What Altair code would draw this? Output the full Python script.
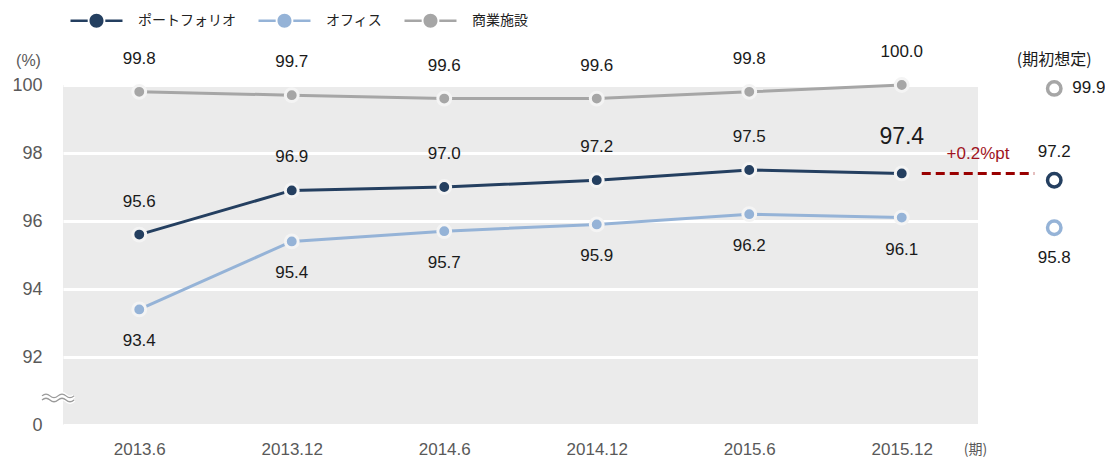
import altair as alt
import pandas as pd

periods = ["2013.6", "2013.12", "2014.6", "2014.12", "2015.6", "2015.12"]
series_names = ["ポートフォリオ", "オフィス", "商業施設"]
series_colors = ["#243F60", "#95B3D7", "#A6A6A6"]
portfolio = [95.6, 96.9, 97.0, 97.2, 97.5, 97.4]
office = [93.4, 95.4, 95.7, 95.9, 96.2, 96.1]
retail = [99.8, 99.7, 99.6, 99.6, 99.8, 100.0]
forecast = [97.2, 95.8, 99.9]          # portfolio, office, retail (期初想定)
forecast_title = "(期初想定)"
gap_label = "+0.2%pt"
y_ticks = [90, 92, 94, 96, 98, 100]
axis_break_at = 90.8

NUM_FONT = "Liberation Sans"
JP_FONT = "Noto Sans CJK JP"

rows = []
for i, p in enumerate(periods):
    for s, vals in zip(series_names, [portfolio, office, retail]):
        rows.append({"idx": i, "period": p, "series": s, "value": vals[i]})
df = pd.DataFrame(rows)
n_last = len(periods) - 1

fc = pd.DataFrame({"idx": [len(periods)] * 3, "series": series_names, "value": forecast})
gap = pd.DataFrame({"x": [n_last], "x2": [len(periods)], "y": [portfolio[-1]], "label": [gap_label]})
head = pd.DataFrame({"idx": [len(periods)], "value": [100], "label": [forecast_title]})
brk = pd.DataFrame({"value": [axis_break_at]})

label_js = "[" + ",".join("'%s'" % p for p in periods) + "][datum.value]"

x_axis = alt.Axis(values=list(range(len(periods))), labelExpr=label_js, grid=False, ticks=False,
                  tickSize=0, domain=False, labelPadding=16, labelFont=NUM_FONT, labelFontSize=17,
                  labelColor="#595959", title="(期)", titleX=912, titleY=24, titleAlign="center",
                  titleBaseline="middle", titleFont=JP_FONT, titleFontSize=14, titleFontWeight="normal",
                  titleColor="#595959")
y_axis = alt.Axis(values=y_ticks, labelExpr="datum.value == 90 ? '0' : datum.value", grid=True,
                  gridColor="white", gridWidth=3, ticks=False, tickSize=0, domain=False, labelPadding=21,
                  labelFont=NUM_FONT, labelFontSize=18, labelColor="#595959", title="(%)", titleAngle=0,
                  titleX=-35, titleY=-25, titleAlign="center", titleBaseline="middle", titleFont=NUM_FONT,
                  titleFontSize=16, titleFontWeight="normal", titleColor="#595959")

xs = alt.Scale(domain=[-0.5, len(periods) - 0.5], nice=False, zero=False)
ys = alt.Scale(domain=[90, 100], nice=False, zero=False)

def X(f="idx"):
    return alt.X(f + ":Q", scale=xs, axis=x_axis)

def Y(f="value"):
    return alt.Y(f + ":Q", scale=ys, axis=y_axis)

# fill scale (carries the legend) and stroke scale (no legend); the stroke scale lists the
# same series in reverse order so that Vega-Lite does not merge the two legends into one
fill_scale = alt.Scale(domain=series_names, range=series_colors)
stroke_scale = alt.Scale(domain=series_names[::-1], range=series_colors[::-1])
sym = ("M-2.3,-0.12H-0.78V0.12H-2.3Z M0.78,-0.12H2.3V0.12H0.78Z "
       "M-0.62,0A0.62,0.62 0 1,0 0.62,0A0.62,0.62 0 1,0 -0.62,0Z")
legend = alt.Legend(orient="none", legendX=22, legendY=-76, direction="horizontal", title=None,
                    symbolType=sym, symbolSize=511, symbolStrokeWidth=0, labelOffset=30,
                    columnPadding=22, labelFont=JP_FONT, labelFontSize=14, labelColor="#222222",
                    padding=0)

lines = alt.Chart(df).mark_line(strokeWidth=3).encode(
    x=X(), y=Y(), stroke=alt.Stroke("series:N", scale=stroke_scale, legend=None))

points = alt.Chart(df).mark_circle(size=165, stroke="#f4f4f4", strokeWidth=3, opacity=1).encode(
    x=X(), y=Y(), fill=alt.Fill("series:N", scale=fill_scale, legend=legend))

txt = dict(font=NUM_FONT, fontSize=17, color="#1a1a1a")
above = alt.Chart(df).transform_filter(
    f"(datum.series == '{series_names[0]}' && datum.idx < {n_last}) || datum.series == '{series_names[2]}'"
).mark_text(dy=-33, **txt).encode(x=X(), y=Y(), text=alt.Text("value:Q", format=".1f"))

below = alt.Chart(df).transform_filter(f"datum.series == '{series_names[1]}'").mark_text(
    dy=32, **txt).encode(x=X(), y=Y(), text=alt.Text("value:Q", format=".1f"))

big = alt.Chart(df).transform_filter(
    f"datum.series == '{series_names[0]}' && datum.idx == {n_last}").mark_text(
    dy=-36, font=NUM_FONT, fontSize=23, color="#1a1a1a").encode(
    x=X(), y=Y(), text=alt.Text("value:Q", format=".1f"))

rings = alt.Chart(fc).mark_point(shape="circle", filled=False, size=180, strokeWidth=3.5, opacity=1).encode(
    x=X(), y=Y(), stroke=alt.Stroke("series:N", scale=stroke_scale, legend=None))

fc_above = alt.Chart(fc).transform_filter(f"datum.series == '{series_names[0]}'").mark_text(
    dy=-28, **txt).encode(x=X(), y=Y(), text=alt.Text("value:Q", format=".1f"))
fc_below = alt.Chart(fc).transform_filter(f"datum.series == '{series_names[1]}'").mark_text(
    dy=30, **txt).encode(x=X(), y=Y(), text=alt.Text("value:Q", format=".1f"))
fc_right = alt.Chart(fc).transform_filter(f"datum.series == '{series_names[2]}'").mark_text(
    dx=18, align="left", **txt).encode(x=X(), y=Y(), text=alt.Text("value:Q", format=".1f"))

fc_head = alt.Chart(head).mark_text(dy=-25, font=JP_FONT, fontSize=16, color="#1a1a1a").encode(
    x=X(), y=Y(), text="label:N")

gap_rule = alt.Chart(gap).mark_rule(color="#990000", strokeWidth=3, strokeDash=[9, 5],
                                    xOffset=20, x2Offset=-20).encode(
    x=X("x"), x2="x2:Q", y=Y("y"))
gap_text = alt.Chart(gap).transform_calculate(xm="(datum.x + datum.x2) / 2").mark_text(
    dy=-19, font=NUM_FONT, fontSize=17, color="#A0141E").encode(x=X("xm"), y=Y("y"), text="label:N")

wave = ("M-1,-0.12 Q-0.75,-0.34 -0.5,-0.12 T0,-0.12 T0.5,-0.12 T1,-0.12 "
        "M-1,0.14 Q-0.75,-0.08 -0.5,0.14 T0,0.14 T0.5,0.14 T1,0.14")
brk_bg = alt.Chart(brk).mark_point(shape=wave, filled=False, size=1024, stroke="white",
                                   strokeWidth=4, opacity=1).encode(x=alt.value(-5), y=Y())
brk_fg = alt.Chart(brk).mark_point(shape=wave, filled=False, size=1024, stroke="#9a9a9a",
                                   strokeWidth=1.3, opacity=1).encode(x=alt.value(-5), y=Y())

chart = alt.layer(lines, points, above, below, big, rings, fc_above, fc_below, fc_right, fc_head,
                  gap_rule, gap_text, brk_bg, brk_fg).properties(
    width=915, height=340,
    autosize=alt.AutoSizeParams(type="none"),
    padding={"left": 55, "top": 77, "right": 127, "bottom": 36},
).configure_view(fill="#EBEBEB", strokeWidth=0)

chart.save("out.html", embed_options={"renderer": "svg", "actions": False})
